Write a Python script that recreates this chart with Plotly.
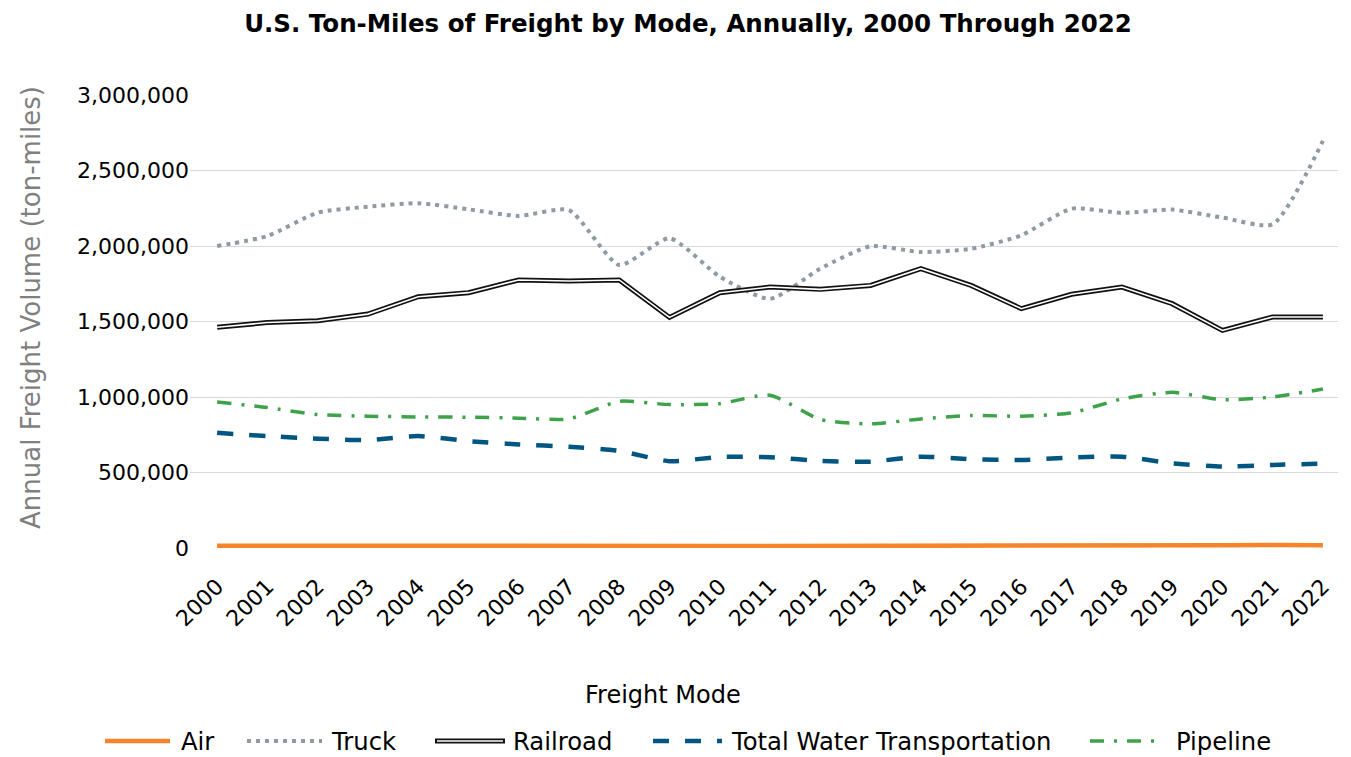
import plotly.graph_objects as go

years = list(range(2000, 2023))
tick_labels = [str(y) for y in years]

air = [15000, 15500, 15800, 16000, 16500, 16300, 16200, 16100, 15500, 12500, 13500, 13200,
       13000, 13200, 14000, 15000, 15200, 16200, 17000, 17300, 18000, 19500, 19000]
truck = [2000000, 2066000, 2221000, 2260000, 2283000, 2243000, 2199000, 2238000, 1874000,
         2051000, 1797000, 1650000, 1850000, 1998000, 1960000, 1982000, 2071000, 2247000,
         2219000, 2241000, 2188000, 2144000, 2696000]
railroad = [1462000, 1493000, 1505000, 1549000, 1664000, 1691000, 1775000, 1768000, 1775000,
            1527000, 1691000, 1728000, 1713000, 1739000, 1850000, 1739000, 1585000, 1680000,
            1728000, 1618000, 1441000, 1530000, 1530000]
water = [763000, 741000, 724000, 715000, 741000, 708000, 686000, 671000, 643000, 575000,
         603000, 601000, 577000, 572000, 605000, 588000, 583000, 599000, 605000, 561000,
         539000, 550000, 559000]
pipeline = [967000, 930000, 884000, 873000, 868000, 866000, 860000, 855000, 971000, 950000,
            956000, 1012000, 851000, 822000, 855000, 877000, 873000, 895000, 987000, 1031000,
            982000, 1000000, 1053000]

y_ticks = [0, 500000, 1000000, 1500000, 2000000, 2500000, 3000000]
series_names = ["Air", "Truck", "Railroad", "Total Water Transportation", "Pipeline"]

FONT = "DejaVu Sans, sans-serif"
C_AIR, C_TRUCK, C_RAIL, C_WATER, C_PIPE = "#F5842A", "#8E9BA3", "#111111", "#005680", "#3DA24A"

# plot area in pixels (for placing the legend outside it)
PL, PR, PT, PB = 190, 1338, 95, 548
W, H = 1351, 757


def px_x(px):
    return (px - PL) / (PR - PL)


def px_y(py):
    return (PB - py) / (PB - PT)


styles = {
    "Air": dict(color=C_AIR, width=4.5),
    "Truck": dict(color=C_TRUCK, width=4, dash="4px,5px"),
    "Railroad": dict(color=C_RAIL, width=5),
    "Total Water Transportation": dict(color=C_WATER, width=4.5, dash="16px,16px"),
    "Pipeline": dict(color=C_PIPE, width=3.5, dash="14px,10px,3px,10px"),
}

fig = go.Figure()
fig.add_trace(go.Scatter(x=years, y=air, name="Air", mode="lines", line=styles["Air"]))
fig.add_trace(go.Scatter(x=years, y=truck, name="Truck", mode="lines",
                         line=dict(**styles["Truck"], shape="spline", smoothing=0.6)))
fig.add_trace(go.Scatter(x=years, y=railroad, name="Railroad", mode="lines", line=styles["Railroad"]))
fig.add_trace(go.Scatter(x=years, y=railroad, name="Railroad", mode="lines", hoverinfo="skip",
                         line=dict(color="#FFFFFF", width=1.6)))
fig.add_trace(go.Scatter(x=years, y=water, name="Total Water Transportation", mode="lines",
                         line=dict(**styles["Total Water Transportation"], shape="spline", smoothing=0.6)))
fig.add_trace(go.Scatter(x=years, y=pipeline, name="Pipeline", mode="lines",
                         line=dict(**styles["Pipeline"], shape="spline", smoothing=0.6)))

# custom legend (glyph start, glyph end, text start) in pixels
legend_pos = {
    "Air": (105, 170, 179),
    "Truck": (247, 322, 329),
    "Railroad": (435, 505, 511),
    "Total Water Transportation": (653, 722, 729),
    "Pipeline": (1090, 1162, 1174),
}
LEG_Y = 741
shapes = []
annotations = []
for name in series_names:
    x0, x1, xt = legend_pos[name]
    shapes.append(dict(type="line", xref="paper", yref="paper",
                       x0=px_x(x0), x1=px_x(x1), y0=px_y(LEG_Y), y1=px_y(LEG_Y),
                       line=styles[name]))
    if name == "Railroad":
        shapes.append(dict(type="line", xref="paper", yref="paper",
                           x0=px_x(x0 + 2), x1=px_x(x1 - 2), y0=px_y(LEG_Y), y1=px_y(LEG_Y),
                           line=dict(color="#FFFFFF", width=1.6)))
    annotations.append(dict(text=name, xref="paper", yref="paper", x=px_x(xt), y=px_y(LEG_Y),
                            xanchor="left", yanchor="middle", showarrow=False,
                            font=dict(family=FONT, size=24.3, color="#000000")))

annotations.append(dict(text="Freight Mode", xref="paper", yref="paper", x=px_x(663), y=px_y(695),
                        xanchor="center", yanchor="middle", showarrow=False,
                        font=dict(family=FONT, size=24, color="#000000")))
annotations.append(dict(text="Annual Freight Volume (ton-miles)", xref="paper", yref="paper",
                        x=px_x(31), y=px_y(308), xanchor="center", yanchor="middle",
                        textangle=-90, showarrow=False,
                        font=dict(family=FONT, size=26, color="#7F7F7F")))

fig.update_layout(
    width=W, height=H,
    paper_bgcolor="white", plot_bgcolor="white",
    margin=dict(l=PL, r=W - PR, t=PT, b=H - PB),
    font=dict(family=FONT, color="#000000", size=20),
    title=dict(text="<b>U.S. Ton-Miles of Freight by Mode, Annually, 2000 Through 2022</b>",
               x=688 / W, xanchor="center", y=1 - 23 / H, yanchor="middle",
               font=dict(family=FONT, size=24.5, color="#000000")),
    showlegend=False,
    shapes=shapes,
    annotations=annotations,
    xaxis=dict(
        range=[1999.46, 2022.3], tickmode="array", tickvals=years, ticktext=tick_labels,
        tickangle=-45, showgrid=False, zeroline=False, showline=False,
        ticks="outside", ticklen=16, tickcolor="rgba(0,0,0,0)",
        tickfont=dict(family=FONT, size=22, color="#000000"),
        automargin=False,
    ),
    yaxis=dict(
        range=[0, 3000000], tickmode="array", tickvals=y_ticks,
        ticktext=[f"{v:,}" for v in y_ticks],
        showgrid=True, gridcolor="#D9D9D9", gridwidth=1.3, zeroline=False, showline=False,
        tickfont=dict(family=FONT, size=22, color="#000000"), ticks="",
        automargin=False,
    ),
)

fig.write_html("out.html", config={"displayModeBar": False},
               post_script="document.body.style.margin='0';")
